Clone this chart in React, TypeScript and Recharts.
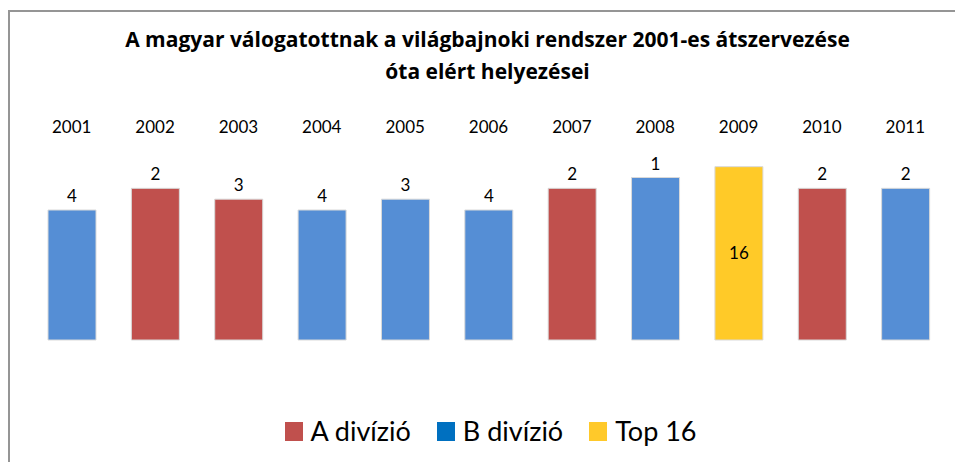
import React from 'react';
import { BarChart, Bar, XAxis, YAxis, Cell, LabelList, Legend } from 'recharts';

// évek, helyezések, divízió és az oszlopok magassága
const evek = ['2001', '2002', '2003', '2004', '2005', '2006', '2007', '2008', '2009', '2010', '2011'];
const helyezesek = [4, 2, 3, 4, 3, 4, 2, 1, 16, 2, 2];
const diviziok = ['B', 'A', 'A', 'B', 'B', 'B', 'A', 'B', 'T', 'A', 'B'];
const szintek = [12, 14, 13, 12, 13, 12, 14, 15, 16, 14, 14];

const oszlopSzinek: Record<string, string> = { A: '#C0504D', B: '#558ED5', T: '#FFCA28' };
const jelmagyarazat = [
    { nev: 'A divízió', szin: '#C0504D' },
    { nev: 'B divízió', szin: '#0070C0' },
    { nev: 'Top 16', szin: '#FFC92A' }
];

const data = evek.map((ev, i) => ({
    ev,
    szint: szintek[i],
    felul: diviziok[i] === 'T' ? null : helyezesek[i],
    belul: diviziok[i] === 'T' ? helyezesek[i] : null
}));

const FONT = 'Lato, "Open Sans", sans-serif';

const EvTick = (props: any) => {
    const { x, y, payload } = props;
    return (
        <text x={x} y={y - 4} textAnchor="middle" fontFamily={FONT} fontSize={17} fill="#000">
            {payload.value}
        </text>
    );
};

const JelmagyarazatTartalom = () => (
    <div style={{ display: 'flex', justifyContent: 'center', alignItems: 'center', paddingLeft: 52, fontFamily: FONT }}>
        {jelmagyarazat.map((j) => (
            <div key={j.nev} style={{ display: 'flex', alignItems: 'center', marginRight: 26 }}>
                <span style={{ width: 18, height: 19, background: j.szin, marginRight: 8 }} />
                <span style={{ fontSize: 27, color: '#000', lineHeight: '28px' }}>{j.nev}</span>
            </div>
        ))}
    </div>
);

export default function App() {
    return (
        <div style={{ position: 'absolute', left: 0, top: 0, width: 955, height: 462, background: '#fff', overflow: 'hidden' }}>
            <div style={{ position: 'absolute', left: 8, top: 10, right: -5, bottom: -5, borderTop: '2px solid #959595', borderLeft: '2px solid #959595' }} />
            <div
                style={{
                    position: 'absolute', left: 20, top: 23, width: 935, textAlign: 'center',
                    fontFamily: '"Open Sans", Lato, sans-serif', fontWeight: 700, fontSize: 21, lineHeight: '32px', color: '#000'
                }}
            >
                A magyar válogatottnak a világbajnoki rendszer 2001-es átszervezése
                <br />
                óta elért helyezései
            </div>
            <BarChart width={955} height={462} data={data} margin={{ top: 115, right: 8, left: 30, bottom: 122 }}>
                <XAxis dataKey="ev" orientation="top" axisLine={false} tickLine={false} tick={<EvTick />} interval={0} />
                <YAxis hide domain={[0, 18]} />
                <Legend
                    layout="horizontal"
                    verticalAlign="middle"
                    align="center"
                    content={<JelmagyarazatTartalom />}
                    wrapperStyle={{ top: 417, left: 0, width: 955 }}
                />
                <Bar dataKey="szint" barSize={48} stroke="#D9D9D9" strokeWidth={1} isAnimationActive={false}>
                    {data.map((d, i) => (
                        <Cell key={d.ev} fill={oszlopSzinek[diviziok[i]]} />
                    ))}
                    <LabelList dataKey="felul" position="top" offset={8} fontFamily={FONT} fontSize={17} fill="#000" />
                    <LabelList dataKey="belul" position="center" fontFamily={FONT} fontSize={17} fill="#000" />
                </Bar>
            </BarChart>
        </div>
    );
}
